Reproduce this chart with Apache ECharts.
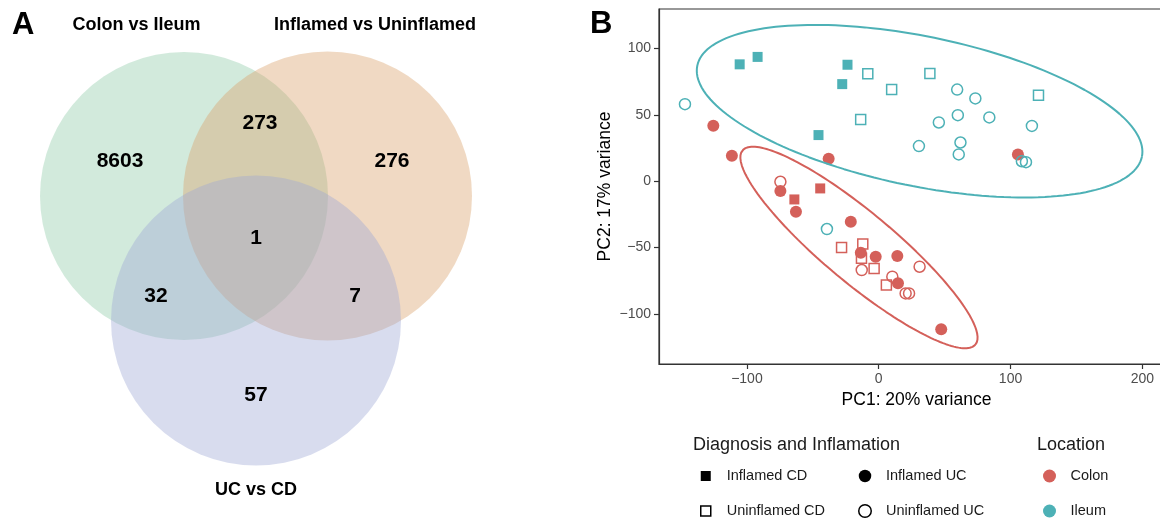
<!DOCTYPE html>
<html><head><meta charset="utf-8">
<script src="https://cdn.jsdelivr.net/npm/echarts@6/dist/echarts.min.js"></script>
<style>html,body{margin:0;padding:0;background:#fff}#c{width:1160px;height:521px}</style>
</head><body><div id="c"></div>
<script>
// ---------- Panel A: Venn data ----------
const vennSetNames = ['Colon vs Ileum', 'Inflamed vs Uninflamed', 'UC vs CD'];
const vennRegionNames = ['Colon vs Ileum only', 'Inflamed vs Uninflamed only', 'UC vs CD only',
  'Colon∩Inflamed', 'Colon∩UC', 'Inflamed∩UC', 'All three'];
const vennCounts = [8603, 276, 57, 273, 32, 7, 1];

// ---------- Panel B: PCA data (PC1, PC2) ----------
const xTicks = [-100, 0, 100, 200];
const yTicks = [-100, -50, 0, 50, 100];
const colonInflamedCD = [[-64, -13.8], [-44.4, -5.5]];
const colonInflamedUC = [[-125.5, 41.7], [-111.4, 19.1], [-38, 16.8], [105.6, 20.1], [-74.6, -7.5],
  [-62.8, -23.1], [-21.2, -30.6], [-13.6, -54], [-2.3, -57], [14.1, -56.5], [14.6, -77], [47.4, -111.7]];
const colonUninflamedCD = [[-28.2, -50], [-12.1, -47.4], [-13.1, -58.2], [-3.5, -65.8], [5.8, -78.3]];
const colonUninflamedUC = [[-74.6, -0.5], [-12.9, -67], [10.3, -72], [31, -64.5], [20.4, -84.6], [23, -84.6]];
const ileumInflamedCD = [[-105.5, 88], [-91.9, 93.6], [-23.7, 87.7], [-27.7, 73.1], [-45.7, 34.7]];
const ileumUninflamedCD = [[-8.3, 80.9], [9.8, 69], [-13.7, 46.5], [38.8, 81.1], [121.2, 64.8]];
const ileumUninflamedUC = [[-147, 58], [59.5, 69], [73.3, 62.3], [60, 49.7], [83.9, 48], [45.6, 44.2],
  [62, 29.1], [60.7, 20.1], [30.5, 26.4], [116.2, 41.6], [108.6, 15], [111.7, 14.3], [-39.3, -36.1]];
// 95% ellipses: centre x, centre y, semi-axis a, semi-axis b, rotation (degrees) in data units
const colonEllipse = [-15, -50, 114.7, 26.6, -39.6];
const ileumEllipse = [31, 52.7, 172.1, 56.4, -11.48];

// ---------- layout / style ----------
const RED = '#D4605A', TEAL = '#4DB1B6';
const FONT = '"Liberation Sans", Arial, Helvetica, sans-serif';
const vennCircles = [[184, 196, 144], [327.5, 196, 144.5], [256, 320.5, 145]];
const vennColors = ['rgba(142,202,167,0.4)', 'rgba(217,160,105,0.4)', 'rgba(157,167,212,0.4)'];
const vennLabelPos = [[120, 161], [392, 161], [256, 395], [260, 123], [156, 296], [355, 296], [256, 238]];
const vennTitlePos = [[136.5, 25], [375, 25], [256, 490]];

function ellipseLine(e) {
  const [cx, cy, a, b, deg] = e, phi = deg * Math.PI / 180, out = [];
  for (let i = 0; i <= 180; i++) {
    const t = 2 * Math.PI * i / 180;
    out.push([cx + a * Math.cos(t) * Math.cos(phi) - b * Math.sin(t) * Math.sin(phi),
              cy + a * Math.cos(t) * Math.sin(phi) + b * Math.sin(t) * Math.cos(phi)]);
  }
  return out;
}
function pts(name, data, color, symbol, filled) {
  const size = symbol === 'rect' ? 10 : (filled ? 12 : 11);
  return {
    name, type: 'scatter', xAxisIndex: 0, yAxisIndex: 0, data, symbol, symbolSize: size,
    itemStyle: filled ? { color, opacity: 1 } : { color: 'rgba(0,0,0,0)', borderColor: color, borderWidth: 1.5, opacity: 1 },
    emphasis: { disabled: true }, z: 3
  };
}
const SQ = 'path://M0,0L10,0L10,10L0,10Z';
const legendText = { fontFamily: FONT, fontSize: 14.5, color: '#1a1a1a', lineHeight: 16 };
function legendBox(left, h, items) {
  return { left, top: 468, orient: 'vertical', itemWidth: 32, itemHeight: h, itemGap: 19, padding: 0,
    selectedMode: false, textStyle: legendText, data: items };
}
const solid = c => ({ color: c, borderWidth: 0, opacity: 1 });
const hollow = { color: 'rgba(0,0,0,0)', borderColor: '#000', borderWidth: 1.5, opacity: 1 };
const tickFmt = v => String(v).replace('-', '\u2212');

const chart = echarts.init(document.getElementById('c'), null, { renderer: 'canvas' });
chart.setOption({
  animation: false,
  backgroundColor: '#fff',
  grid: [
    { left: 659, top: 9, height: 355, width: 515, outerBoundsMode: 'none', containLabel: false,
      show: true, borderColor: '#333', borderWidth: 1.2, backgroundColor: 'transparent' },
    { left: 0, top: 0, width: 590, height: 521, outerBoundsMode: 'none', show: false }
  ],
  xAxis: [
    { type: 'value', gridIndex: 0, min: -166.7, max: 224,
      name: 'PC1: 20% variance', nameLocation: 'middle', nameGap: 24,
      nameTextStyle: { fontFamily: FONT, fontSize: 17.5, color: '#000' },
      axisLine: { show: true, onZero: false, lineStyle: { color: '#333', width: 1.2 } },
      axisTick: { show: true, length: 5, customValues: xTicks, lineStyle: { color: '#333', width: 1.2 } },
      axisLabel: { customValues: xTicks, margin: 8, fontFamily: FONT, fontSize: 14, color: '#4d4d4d', formatter: tickFmt },
      splitLine: { show: false } },
    { type: 'value', gridIndex: 1, min: 0, max: 590, show: false }
  ],
  yAxis: [
    { type: 'value', gridIndex: 0, min: -137.8, max: 129.7,
      name: 'PC2: 17% variance', nameLocation: 'middle', nameGap: 45,
      nameTextStyle: { fontFamily: FONT, fontSize: 17.5, color: '#000' },
      axisLine: { show: true, onZero: false, lineStyle: { color: '#333', width: 1.2 } },
      axisTick: { show: true, length: 5, customValues: yTicks, lineStyle: { color: '#333', width: 1.2 } },
      axisLabel: { customValues: yTicks, margin: 8, fontFamily: FONT, fontSize: 14, color: '#4d4d4d', formatter: tickFmt },
      splitLine: { show: false } },
    { type: 'value', gridIndex: 1, min: 0, max: 521, inverse: true, show: false }
  ],
  legend: [
    legendBox(700, 10, [
      { name: 'Inflamed CD', icon: SQ, itemStyle: solid('#000') },
      { name: 'Uninflamed CD', icon: SQ, itemStyle: hollow }]),
    legendBox(858, 12.5, [
      { name: 'Inflamed UC', icon: 'circle', itemStyle: solid('#000') },
      { name: 'Uninflamed UC', icon: 'circle', itemStyle: hollow }]),
    legendBox(1043, 13, [
      { name: 'Colon', icon: 'circle', itemStyle: solid(RED) },
      { name: 'Ileum', icon: 'circle', itemStyle: solid(TEAL) }])
  ],
  graphic: [
    { type: 'text', x: 12, y: 25, style: { text: 'A', font: 'bold 31px ' + FONT, fill: '#000', verticalAlign: 'middle' } },
    { type: 'text', x: 590, y: 24, style: { text: 'B', font: 'bold 31px ' + FONT, fill: '#000', verticalAlign: 'middle' } },
    { type: 'text', x: 693, y: 445, style: { text: 'Diagnosis and Inflamation', font: '18px ' + FONT, fill: '#1a1a1a', verticalAlign: 'middle' } },
    { type: 'text', x: 1037, y: 445, style: { text: 'Location', font: '18px ' + FONT, fill: '#1a1a1a', verticalAlign: 'middle' } }
  ],
  series: [
    { type: 'custom', name: 'venn', xAxisIndex: 1, yAxisIndex: 1, silent: true,
      data: vennCircles.map((c, i) => ({ value: c, name: vennSetNames[i] })),
      renderItem: (params, api) => {
        const p = api.coord([api.value(0), api.value(1)]);
        const s = api.size([api.value(2), api.value(2)]);
        return { type: 'circle', shape: { cx: p[0], cy: p[1], r: s[0] }, style: { fill: vennColors[params.dataIndex] } };
      } },
    { type: 'scatter', name: 'vennCounts', xAxisIndex: 1, yAxisIndex: 1, symbolSize: 0, silent: true, z: 5,
      itemStyle: { opacity: 1 },
      data: vennCounts.map((v, i) => ({ value: [vennLabelPos[i][0], vennLabelPos[i][1], v], name: vennRegionNames[i] })),
      label: { show: true, position: 'inside', formatter: p => p.value[2],
        fontFamily: FONT, fontWeight: 'bold', fontSize: 21, color: '#000' } },
    { type: 'scatter', name: 'vennSets', xAxisIndex: 1, yAxisIndex: 1, symbolSize: 0, silent: true, z: 5,
      itemStyle: { opacity: 1 },
      data: vennSetNames.map((n, i) => ({ value: [vennTitlePos[i][0], vennTitlePos[i][1]], name: n })),
      label: { show: true, position: 'inside', formatter: p => p.name,
        fontFamily: FONT, fontWeight: 'bold', fontSize: 18, color: '#000' } },

    pts('Colon · Inflamed CD', colonInflamedCD, RED, 'rect', true),
    pts('Colon · Inflamed UC', colonInflamedUC, RED, 'circle', true),
    pts('Colon · Uninflamed CD', colonUninflamedCD, RED, 'rect', false),
    pts('Colon · Uninflamed UC', colonUninflamedUC, RED, 'circle', false),
    pts('Ileum · Inflamed CD', ileumInflamedCD, TEAL, 'rect', true),
    pts('Ileum · Uninflamed CD', ileumUninflamedCD, TEAL, 'rect', false),
    pts('Ileum · Uninflamed UC', ileumUninflamedUC, TEAL, 'circle', false),
    { type: 'line', name: 'Colon ellipse', xAxisIndex: 0, yAxisIndex: 0, data: ellipseLine(colonEllipse),
      showSymbol: false, silent: true, lineStyle: { color: RED, width: 2 }, z: 4 },
    { type: 'line', name: 'Ileum ellipse', xAxisIndex: 0, yAxisIndex: 0, data: ellipseLine(ileumEllipse),
      showSymbol: false, silent: true, lineStyle: { color: TEAL, width: 2 }, z: 4 },

    { type: 'scatter', name: 'Inflamed CD', data: [] },
    { type: 'scatter', name: 'Uninflamed CD', data: [] },
    { type: 'scatter', name: 'Inflamed UC', data: [] },
    { type: 'scatter', name: 'Uninflamed UC', data: [] },
    { type: 'scatter', name: 'Colon', data: [] },
    { type: 'scatter', name: 'Ileum', data: [] }
  ]
});
</script>
</body></html>
